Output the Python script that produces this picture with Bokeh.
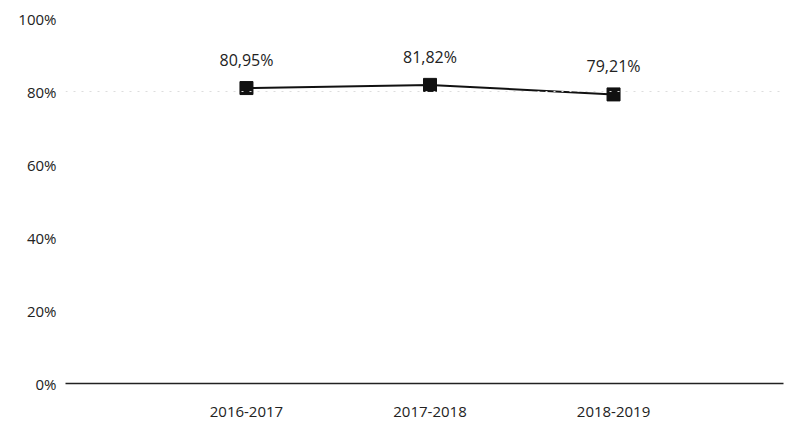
from bokeh.plotting import figure
from bokeh.models import ColumnDataSource, Range1d, FixedTicker, Span, LabelSet
from bokeh.core.properties import value
from bokeh.embed import file_html
from bokeh.resources import INLINE

categories = ["2016-2017", "2017-2018", "2018-2019"]
values = [80.95, 81.82, 79.21]
value_labels = ["80,95%", "81,82%", "79,21%"]
y_ticks = [0, 20, 40, 60, 80, 100]
y_tick_labels = ["0%", "20%", "40%", "60%", "80%", "100%"]

FONT = "Open Sans"

xs = list(range(len(categories)))
src = ColumnDataSource(dict(x=xs, y=values, lab=value_labels))

p = figure(width=790, height=421, output_backend="svg", toolbar_location=None,
           x_range=Range1d(-0.986, 2.926), y_range=Range1d(0, 102.2),
           min_border_left=65, min_border_right=7, min_border_top=10, min_border_bottom=38)
p.outline_line_color = None
p.background_fill_color = "white"
p.border_fill_color = "white"
p.xgrid.visible = False
p.ygrid.visible = False

p.add_layout(Span(location=80, dimension="width", line_color="#dddddd",
                  line_width=1, line_dash="2 6"))

p.line("x", "y", source=src, line_color="#111111", line_width=2)
p.scatter("x", "y", source=src, marker="square", size=13,
          fill_color="#111111", line_color="#111111")

labels = LabelSet(x="x", y="y", text="lab", source=src, text_align="center",
                  text_baseline="bottom", y_offset=17, text_font=value(FONT),
                  text_font_size="16px", text_color="#222222")
p.add_layout(labels)

# x axis
p.xaxis.ticker = FixedTicker(ticks=xs)
p.xaxis.major_label_overrides = {i: c for i, c in zip(xs, categories)}
p.xaxis.axis_line_color = "#222222"
p.xaxis.axis_line_width = 1.5
p.xaxis.major_tick_line_color = None
p.xaxis.minor_tick_line_color = None
p.xaxis.major_label_standoff = 17
p.xaxis.major_label_text_font = FONT
p.xaxis.major_label_text_font_size = "15px"
p.xaxis.major_label_text_color = "#222222"

# y axis
p.yaxis.ticker = FixedTicker(ticks=y_ticks)
p.yaxis.major_label_overrides = {t: l for t, l in zip(y_ticks, y_tick_labels)}
p.yaxis.axis_line_color = None
p.yaxis.major_tick_line_color = None
p.yaxis.minor_tick_line_color = None
p.yaxis.major_label_standoff = 3
p.yaxis.major_label_text_font = FONT
p.yaxis.major_label_text_font_size = "15px"
p.yaxis.major_label_text_color = "#222222"

open("out.html", "w").write(file_html(p, INLINE))
